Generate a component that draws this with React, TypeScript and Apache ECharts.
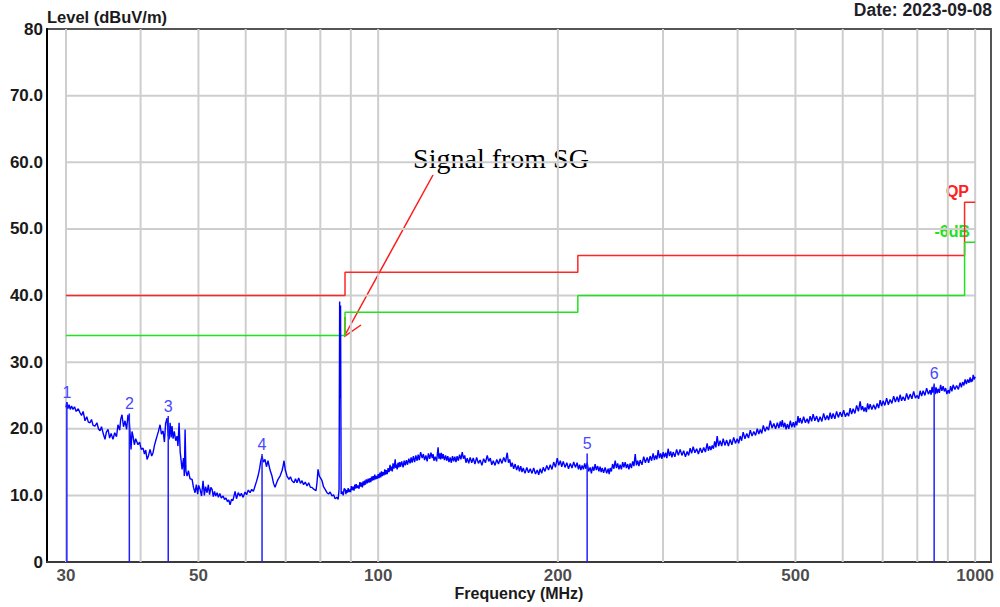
import React, { useEffect, useRef } from "react";
import * as echarts from "echarts";

const SANS = "'Liberation Sans', Arial, Helvetica, sans-serif";
const SERIF = "'Liberation Serif', 'Times New Roman', serif";

// Limit line break frequencies (MHz) and the level of each segment (dBuV/m)
const limitEdges = [30, 88, 216, 960, 1000];
const qpLimit = [40, 43.5, 46, 54];
const marginLimit = [34, 37.5, 40, 48];

// Grid lines and axis labels
const xGridFreqs = [30, 40, 50, 60, 70, 80, 90, 100, 200, 300, 400, 500, 600, 700, 800, 900, 1000];
const xTickLabels = [30, 50, 100, 200, 500, 1000];
const yGridLevels = [10, 20, 30, 40, 50, 60, 70];

// Peak markers
const markerFreq = [30.1, 38.3, 44.5, 63.9, 223.9, 853.7];
const markerLevel = [24.0, 22.3, 21.9, 16.2, 16.3, 26.8];

// Measured trace, 30 - 88 MHz: [frequency MHz, level dBuV/m]
const traceLow: [number, number][] = [
  [30.0, 23.2], [30.1, 24.0], [30.2, 23.0], [30.35, 23.6], [30.5, 22.9], [30.65, 23.4], [30.82, 22.9],
  [31.0, 23.3], [31.2, 22.6], [31.45, 23.0], [31.67, 22.4], [31.85, 22.0], [32.05, 22.6], [32.28, 21.2],
  [32.5, 21.8], [32.7, 21.0], [32.91, 20.9], [33.1, 21.4], [33.3, 20.5], [33.55, 20.4], [33.8, 20.9],
  [34.0, 20.0], [34.21, 19.7], [34.4, 20.3], [34.65, 19.2], [34.87, 18.4], [35.05, 19.5], [35.28, 19.9],
  [35.5, 18.6], [35.7, 19.3], [35.96, 18.4], [36.2, 19.4], [36.45, 18.8], [36.66, 20.6], [36.9, 19.8],
  [37.05, 21.4], [37.23, 22.1], [37.45, 20.3], [37.67, 21.2], [37.9, 19.9], [38.1, 22.1], [38.3, 21.0],
  [38.42, 19.2], [38.55, 16.9], [38.7, 19.6], [38.85, 18.9], [39.05, 17.6], [39.25, 18.5], [39.6, 17.6],
  [39.85, 18.0], [40.1, 16.9], [40.38, 17.1], [40.6, 16.2], [40.8, 16.8], [41.01, 15.4], [41.25, 16.0],
  [41.49, 16.9], [41.75, 15.9], [41.97, 16.4], [42.2, 17.5], [42.4, 18.2], [42.62, 18.9], [42.85, 19.6],
  [43.12, 20.6], [43.35, 19.2], [43.62, 19.7], [43.85, 18.0], [44.05, 20.8], [44.3, 21.6], [44.5, 19.0],
  [44.65, 18.4], [44.82, 20.9], [45.0, 18.7], [45.15, 20.4], [45.34, 18.5], [45.55, 19.6], [45.8, 18.2],
  [46.04, 18.9], [46.2, 17.4], [46.4, 20.9], [46.6, 16.5], [46.94, 13.9], [47.2, 15.6], [47.35, 12.9],
  [47.49, 19.9], [47.65, 13.6], [47.86, 12.9], [48.1, 13.7], [48.4, 12.5], [48.79, 12.4], [49.05, 11.2],
  [49.35, 10.4], [49.6, 11.6], [49.85, 10.2], [50.05, 11.5], [50.32, 10.9], [50.6, 9.9], [50.9, 12.2],
  [51.15, 10.0], [51.4, 11.3], [51.69, 10.4], [51.95, 11.6], [52.2, 10.1], [52.45, 11.2], [52.7, 10.9],
  [52.95, 9.8], [53.2, 10.6], [53.45, 9.9], [53.73, 10.4], [54.0, 9.7], [54.3, 10.3], [54.6, 9.6],
  [54.98, 9.9], [55.3, 9.4], [55.6, 9.6], [55.9, 9.1], [56.2, 9.3], [56.49, 8.6], [56.8, 9.4], [57.1, 9.2],
  [57.59, 10.6], [57.9, 9.5], [58.3, 10.4], [58.71, 9.9], [59.0, 10.3], [59.4, 9.7], [59.85, 10.5],
  [60.2, 10.1], [60.6, 10.8], [61.01, 10.4], [61.4, 10.9], [61.8, 10.6], [62.2, 11.4], [62.55, 12.1],
  [62.92, 12.9], [63.3, 14.0], [63.6, 15.2], [63.9, 15.9], [64.25, 15.0], [64.63, 15.4], [65.0, 14.3],
  [65.38, 15.2], [65.9, 13.8], [66.4, 12.9], [66.8, 11.8], [67.18, 11.2], [67.6, 11.9], [67.96, 12.4],
  [68.5, 12.9], [69.02, 13.7], [69.3, 14.4], [69.55, 15.2], [69.9, 13.8], [70.36, 12.9], [70.9, 12.4],
  [71.3, 12.8], [71.73, 12.2], [72.3, 11.9], [72.7, 12.5], [73.13, 11.9], [73.6, 12.6], [74.1, 11.8],
  [74.55, 12.2], [75.0, 11.6], [75.5, 12.0], [76.0, 11.4], [76.5, 11.9], [77.0, 11.2], [77.48, 11.2],
  [78.1, 10.9], [78.69, 10.7], [79.0, 12.0], [79.3, 13.9], [79.7, 12.9], [80.1, 12.6], [80.53, 12.2],
  [81.0, 11.3], [81.5, 10.9], [82.1, 10.4], [82.6, 10.2], [83.1, 10.5], [83.69, 9.9], [84.2, 10.1],
  [84.7, 9.5], [85.32, 9.7], [85.7, 9.4], [86.0, 10.9], [86.2, 39.1], [86.35, 24.6], [86.5, 38.5],
  [86.7, 10.2], [87.0, 10.6], [87.4, 10.0], [87.7, 11.0],
];

// Measured trace, 88 - 300 MHz
const traceMid: [number, number][] = [
  [88.06, 10.9], [88.3, 10.2], [88.5, 10.8], [88.8, 10.4], [89.08, 11.1], [89.35, 10.5], [89.6, 10.9],
  [89.9, 10.5], [90.2, 11.4], [90.5, 10.8], [90.81, 11.3], [91.1, 10.7], [91.4, 11.6], [91.65, 11.0],
  [91.9, 11.7], [92.2, 11.1], [92.57, 11.5], [92.9, 11.0], [93.2, 12.0], [93.5, 11.3], [93.8, 11.9],
  [94.1, 11.2], [94.38, 12.1], [94.65, 11.5], [94.9, 12.2], [95.2, 11.6], [95.5, 12.4], [95.85, 11.8],
  [96.22, 12.5], [96.55, 11.9], [96.9, 12.6], [97.2, 12.0], [97.5, 12.8], [97.8, 12.2], [98.09, 12.9],
  [98.4, 12.3], [98.7, 13.1], [99.05, 12.4], [99.4, 12.9], [99.7, 12.5],
  [100.0, 13.2], [100.35, 12.6], [100.7, 13.4], [101.0, 12.7], [101.3, 13.6], [101.6, 12.9], [101.9, 13.5],
  [102.25, 13.0], [102.6, 13.9], [102.9, 13.1], [103.2, 13.8], [103.55, 13.2], [103.9, 14.1], [104.3, 13.5],
  [104.7, 14.6], [105.0, 13.7], [105.3, 14.3], [105.6, 13.6], [105.9, 14.8], [106.3, 14.0], [106.8, 15.4],
  [107.05, 14.1], [107.3, 14.6], [107.6, 13.9], [107.95, 14.9], [108.3, 14.2], [108.65, 15.0], [109.0, 14.3],
  [109.5, 15.1], [110.1, 14.2], [110.55, 15.2], [111.0, 14.5], [111.5, 15.3], [112.0, 14.6], [112.55, 15.5],
  [113.1, 14.8], [113.55, 15.7], [114.0, 14.9], [114.55, 15.9], [115.1, 15.0], [115.65, 16.0], [116.2, 15.2],
  [116.7, 16.1], [117.2, 15.3], [117.8, 16.5], [118.5, 15.6], [119.05, 16.2], [119.6, 15.3], [120.2, 16.0],
  [120.8, 15.1], [121.4, 16.3], [122.0, 15.5], [122.6, 16.4], [123.2, 15.6], [123.6, 16.2], [124.0, 15.2],
  [124.6, 15.8], [125.3, 15.1], [125.65, 16.2], [126.0, 17.2], [126.4, 15.5], [126.8, 16.3], [127.2, 15.4],
  [127.6, 16.4], [128.05, 15.5], [128.5, 16.2], [129.1, 15.3], [129.7, 16.0], [130.25, 15.2], [130.8, 15.9],
  [131.4, 15.0], [132.0, 15.7], [132.6, 14.9], [133.2, 15.9], [133.8, 15.1], [134.4, 15.8], [135.0, 15.0],
  [135.6, 15.9], [136.25, 15.2], [136.9, 16.1], [137.6, 15.4], [138.3, 16.5], [138.95, 15.5], [139.6, 16.0],
  [140.3, 14.9], [141.0, 15.6], [141.8, 14.8], [142.6, 15.7], [143.45, 14.9], [144.3, 15.6], [145.25, 14.7],
  [146.2, 15.7], [147.2, 14.8], [148.2, 15.3], [149.2, 14.5], [150.2, 15.5], [151.25, 14.9], [152.3, 16.0],
  [153.2, 15.1], [154.1, 15.6], [155.0, 14.6], [155.9, 15.2], [156.95, 14.5], [158.0, 15.4], [159.05, 14.7],
  [160.1, 15.5], [161.2, 14.8], [162.3, 15.7], [163.4, 15.0], [164.5, 16.4], [165.3, 14.9], [166.1, 15.4],
  [166.9, 14.3], [167.7, 14.9], [168.65, 14.0], [169.6, 14.7], [170.6, 13.8], [171.6, 14.5], [172.45, 13.6],
  [173.3, 14.4], [174.15, 13.5], [175.0, 14.1], [176.2, 13.3], [177.4, 14.2], [178.6, 13.4], [179.8, 14.0],
  [181.0, 13.3], [182.2, 14.1], [183.45, 13.2], [184.7, 13.8], [185.75, 13.1], [186.8, 14.0], [187.9, 13.3],
  [189.0, 14.2], [190.3, 13.6], [191.6, 14.5], [192.9, 13.8], [194.2, 14.6], [195.5, 13.9], [196.8, 15.0],
  [198.15, 14.2], [199.5, 15.6], [200.7, 14.5],
  [201.9, 15.2], [203.0, 14.3], [204.2, 15.1], [205.6, 14.2], [207.0, 14.9], [208.4, 14.0], [209.8, 14.8],
  [211.2, 14.1], [212.6, 15.0], [214.0, 14.2], [215.4, 14.9], [216.5, 13.9], [217.5, 14.6], [218.55, 13.8],
  [219.6, 14.5], [220.7, 13.9], [221.8, 14.8], [222.85, 14.0], [223.9, 14.9], [225.2, 13.6], [226.5, 14.2],
  [227.6, 13.3], [228.7, 14.3], [229.8, 13.7], [230.9, 14.7], [232.0, 13.8], [233.2, 14.4], [234.3, 13.6],
  [235.4, 14.3], [236.35, 13.5], [237.3, 14.1], [238.6, 13.4], [240.0, 14.2], [241.4, 13.3], [242.8, 14.0],
  [243.75, 13.2], [244.7, 14.1], [245.85, 13.6], [247.0, 14.7], [248.25, 14.0], [249.5, 15.2], [250.7, 14.1],
  [251.9, 14.8], [253.1, 13.9], [254.3, 14.6], [255.55, 13.9], [256.8, 15.0], [258.0, 14.2], [259.3, 15.0],
  [260.5, 14.1], [261.8, 14.7], [263.0, 13.9], [264.3, 14.8], [265.6, 14.1], [266.9, 15.1], [268.2, 14.4],
  [269.5, 16.2], [270.8, 14.5], [272.1, 15.2], [273.4, 14.4], [274.7, 15.3], [276.6, 14.6], [278.5, 15.8],
  [280.3, 14.9], [282.2, 15.7], [283.8, 14.9], [285.5, 15.9], [287.1, 15.2], [288.8, 16.3], [290.2, 15.3],
  [291.6, 16.0], [293.0, 15.4], [294.5, 16.8], [295.9, 15.6], [297.3, 16.3], [298.75, 15.5], [300.2, 16.5],
];

// Measured trace, 300 - 1000 MHz
const traceHigh: [number, number][] = [
  [301.6, 15.7], [303.1, 16.4], [304.5, 15.6], [306.0, 17.0], [307.5, 15.9], [309.0, 16.6], [310.5, 15.7],
  [312.0, 16.5], [314.1, 15.8], [316.2, 16.9], [318.3, 16.0], [320.5, 16.9], [322.7, 16.0], [324.9, 16.7],
  [327.1, 15.8], [329.3, 16.6], [331.2, 16.0], [333.1, 17.1], [335.0, 16.3], [337.0, 17.3], [339.3, 16.4],
  [341.6, 17.0], [343.9, 16.2], [346.3, 17.1], [348.6, 16.4], [351.0, 17.2], [353.3, 16.5], [355.7, 17.8],
  [357.4, 16.7], [359.2, 17.4], [360.9, 16.8], [362.7, 17.5], [364.4, 17.0], [366.2, 18.1], [367.9, 17.2],
  [369.7, 18.9], [371.8, 17.4], [374.0, 18.2], [376.2, 17.4], [378.4, 18.5], [380.9, 17.5], [383.5, 18.3],
  [386.1, 17.4], [388.7, 18.4], [391.3, 17.6], [394.0, 18.7], [396.7, 17.8], [399.4, 18.5], [401.7, 17.8],
  [404.0, 18.9], [406.3, 18.2], [408.7, 19.5], [411.5, 18.5], [414.4, 19.3], [417.2, 18.6], [420.1, 19.8],
  [422.9, 18.9], [425.8, 19.6], [428.7, 19.0], [431.6, 20.0], [434.1, 19.2], [436.6, 19.9], [439.1, 19.3],
  [441.7, 20.5], [444.7, 19.6], [447.7, 20.3], [450.7, 19.8], [453.8, 21.2], [456.9, 20.1], [460.0, 20.8],
  [463.1, 20.0], [466.3, 20.9], [469.0, 20.1], [471.7, 21.1], [473.5, 20.3], [475.3, 21.3], [477.6, 20.2],
  [480.0, 20.9], [482.3, 19.9], [484.6, 20.7], [487.4, 20.0], [490.2, 21.2], [493.0, 20.2], [495.9, 21.0],
  [498.2, 20.2], [500.5, 21.1], [502.7, 20.5], [505.0, 21.9],
  [507.0, 20.9], [509.1, 21.6], [512.5, 20.8], [516.0, 21.8], [519.5, 20.9], [523.0, 21.5], [526.0, 20.8],
  [529.1, 21.9], [532.2, 21.1], [535.3, 22.2], [538.9, 21.2], [542.6, 21.9], [546.2, 21.0], [549.9, 21.8],
  [553.6, 21.1], [557.4, 22.3], [561.2, 21.3], [565.0, 22.0], [568.3, 21.3], [571.6, 22.4], [574.9, 21.5],
  [578.2, 22.3], [582.1, 21.5], [586.0, 22.6], [590.0, 21.7], [594.0, 22.5], [598.0, 21.8], [602.1, 22.8],
  [606.2, 21.8], [610.3, 22.4], [613.8, 21.9], [617.4, 23.1], [621.0, 22.2], [624.6, 23.0], [628.8, 22.3],
  [633.1, 23.5], [637.4, 22.6], [641.7, 24.1], [644.8, 22.8], [647.9, 23.4], [651.0, 22.6], [654.2, 23.2],
  [657.3, 22.5], [660.5, 23.8], [663.7, 22.9], [666.9, 23.7], [671.4, 22.9], [676.0, 23.6], [680.6, 22.9],
  [685.2, 23.8], [689.2, 23.1], [693.2, 24.3], [697.2, 23.4], [701.2, 24.2], [705.9, 23.5], [710.7, 24.6],
  [715.5, 23.6], [720.4, 24.4], [725.3, 23.8], [730.2, 24.9], [735.1, 24.0], [740.1, 24.8], [744.4, 24.0],
  [748.7, 25.1], [753.0, 24.2], [757.4, 24.8], [762.5, 24.2], [767.7, 25.3], [772.9, 24.4], [778.2, 25.2],
  [783.5, 24.5], [788.8, 25.6], [794.1, 24.6], [799.5, 25.0], [804.1, 24.5], [808.8, 25.7], [813.5, 24.9],
  [818.2, 25.7], [823.7, 25.0], [829.3, 26.1], [834.9, 25.2], [840.6, 25.8], [843.8, 25.1], [847.0, 26.3],
  [850.3, 25.4], [853.7, 26.6], [857.0, 25.2], [860.2, 26.2], [863.5, 25.3], [866.9, 26.0], [871.1, 25.4],
  [875.3, 26.6], [879.5, 25.7], [883.8, 26.4], [888.0, 25.6], [892.3, 26.1], [896.6, 25.2], [901.0, 25.8],
  [905.3, 25.3], [909.7, 26.4], [914.1, 25.6], [918.6, 26.6], [924.8, 25.9], [931.0, 26.5], [937.3, 25.9],
  [943.7, 26.9], [948.2, 26.2], [952.8, 27.0], [957.4, 26.5], [962.1, 27.4], [966.7, 26.7], [971.4, 27.4],
  [976.1, 26.9], [980.9, 27.7], [983.7, 27.0], [986.5, 27.5], [989.4, 27.1], [992.3, 28.1], [996.1, 27.4],
  [1000, 27.8],
];

function stepPoints(edges: number[], levels: number[]): [number, number][] {
  const pts: [number, number][] = [];
  levels.forEach((v, i) => {
    pts.push([edges[i], v]);
    pts.push([edges[i + 1], v]);
  });
  return pts;
}

const GRID_COLOR = "#cecece";

function gridSeries(data: [number, number][]) {
  return {
    type: "line",
    data,
    symbol: "none",
    silent: true,
    z: 1,
    lineStyle: { color: GRID_COLOR, width: 2 },
  };
}

export default function App() {
  const ref = useRef<HTMLDivElement>(null);

  useEffect(() => {
    if (!ref.current) return;
    const chart = echarts.init(ref.current, null, { renderer: "svg" });

    const verticalGrid = xGridFreqs.map((f) =>
      gridSeries([
        [f, 0],
        [f, 80],
      ])
    );
    const horizontalGrid = yGridLevels.map((v) =>
      gridSeries([
        [30, v],
        [1000, v],
      ])
    );

    const option: any = {
      animation: false,
      backgroundColor: "#ffffff",
      grid: {
        left: 47,
        top: 29,
        right: 9,
        bottom: 45,
        show: true,
        borderColor: "#555555",
        borderWidth: 2,
        backgroundColor: "transparent",
      },
      xAxis: {
        type: "log",
        logBase: 10,
        min: 27.88,
        max: 1063,
        axisLine: { show: true, onZero: false, lineStyle: { color: "#3a3a3a", width: 2 } },
        axisTick: { show: false },
        axisLabel: { show: false },
        splitLine: { show: false },
        minorSplitLine: { show: false },
        name: "Frequency (MHz)",
        nameLocation: "middle",
        nameGap: 23,
        nameTextStyle: { fontFamily: SANS, fontWeight: "bold", fontSize: 16, color: "#1a1a1a" },
      },
      yAxis: {
        type: "value",
        min: 0,
        max: 80,
        interval: 10,
        axisLine: { show: true, lineStyle: { color: "#000000", width: 2 } },
        axisTick: { show: false },
        splitLine: { show: false },
        axisLabel: {
          margin: 4,
          fontFamily: SANS,
          fontWeight: "bold",
          fontSize: 17,
          color: "#1a1a1a",
          formatter: (v: number) => (v === 0 || v === 80 ? String(v) : v.toFixed(1)),
        },
      },
      series: [
        ...verticalGrid,
        ...horizontalGrid,
        {
          name: "QP",
          type: "line",
          data: stepPoints(limitEdges, qpLimit),
          symbol: "none",
          lineStyle: { color: "#ff2626", width: 1.5 },
          silent: true,
          z: 3,
        },
        {
          name: "-6dB",
          type: "line",
          data: stepPoints(limitEdges, marginLimit),
          symbol: "none",
          lineStyle: { color: "#1fe31f", width: 1.5 },
          silent: true,
          z: 3,
        },
        {
          name: "Level",
          type: "line",
          data: [...traceLow, ...traceMid, ...traceHigh],
          symbol: "none",
          lineStyle: { color: "#0000ff", width: 1.4 },
          silent: true,
          z: 4,
        },
        {
          name: "markers",
          type: "custom",
          clip: false,
          silent: true,
          z: 5,
          encode: { x: 0, y: 1 },
          data: markerFreq.map((f, i) => [f, markerLevel[i], i + 1]),
          renderItem: (_params: any, api: any) => {
            const top = api.coord([api.value(0), api.value(1)]);
            const base = api.coord([api.value(0), 0]);
            return {
              type: "group",
              children: [
                {
                  type: "line",
                  shape: { x1: base[0], y1: base[1], x2: top[0], y2: top[1] },
                  style: { stroke: "#2020ff", lineWidth: 1.5 },
                },
                {
                  type: "text",
                  x: top[0],
                  y: top[1] - 10,
                  style: {
                    text: String(api.value(2)),
                    fill: "#4848ff",
                    font: `16px ${SANS}`,
                    align: "center",
                    verticalAlign: "middle",
                  },
                },
              ],
            };
          },
        },
        {
          name: "xLabels",
          type: "scatter",
          data: xTickLabels.map((f) => [f, 0]),
          symbolSize: 0,
          clip: false,
          silent: true,
          label: {
            show: true,
            position: "bottom",
            distance: 5,
            formatter: (p: any) => String(p.value[0]),
            fontFamily: SANS,
            fontWeight: "bold",
            fontSize: 17,
            color: "#1a1a1a",
          },
        },
      ],
      graphic: [
        {
          type: "text",
          x: 47,
          y: 17,
          style: {
            text: "Level (dBuV/m)",
            font: `bold 16.5px ${SANS}`,
            fill: "#1a1a1a",
            align: "left",
            verticalAlign: "middle",
          },
        },
        {
          type: "text",
          x: 992,
          y: 1,
          style: {
            text: "Date: 2023-09-08",
            font: `bold 17.5px ${SANS}`,
            fill: "#1f1f2a",
            align: "right",
            verticalAlign: "top",
          },
        },
        {
          type: "text",
          x: 969,
          y: 191,
          style: {
            text: "QP",
            font: `bold 16px ${SANS}`,
            fill: "#ff2020",
            align: "right",
            verticalAlign: "middle",
          },
        },
        {
          type: "text",
          x: 970,
          y: 231,
          style: {
            text: "-6dB",
            font: `bold 16px ${SANS}`,
            fill: "#22e022",
            align: "right",
            verticalAlign: "middle",
          },
        },
        {
          type: "text",
          x: 501,
          y: 158,
          style: {
            text: "Signal from SG",
            font: `28px ${SERIF}`,
            fill: "#000000",
            align: "center",
            verticalAlign: "middle",
          },
        },
        {
          type: "line",
          shape: { x1: 433, y1: 175, x2: 345, y2: 335 },
          style: { stroke: "#ff1a1a", lineWidth: 1.5 },
        },
        {
          type: "polyline",
          shape: { points: [[345, 317], [345, 336], [361, 325]] },
          style: { stroke: "#ff1a1a", lineWidth: 1.5, fill: "none" },
        },
      ],
    };

    chart.setOption(option);
    return () => chart.dispose();
  }, []);

  return (
    <div
      ref={ref}
      style={{ position: "fixed", left: 0, top: 0, width: 1000, height: 607, background: "#fff" }}
    />
  );
}
